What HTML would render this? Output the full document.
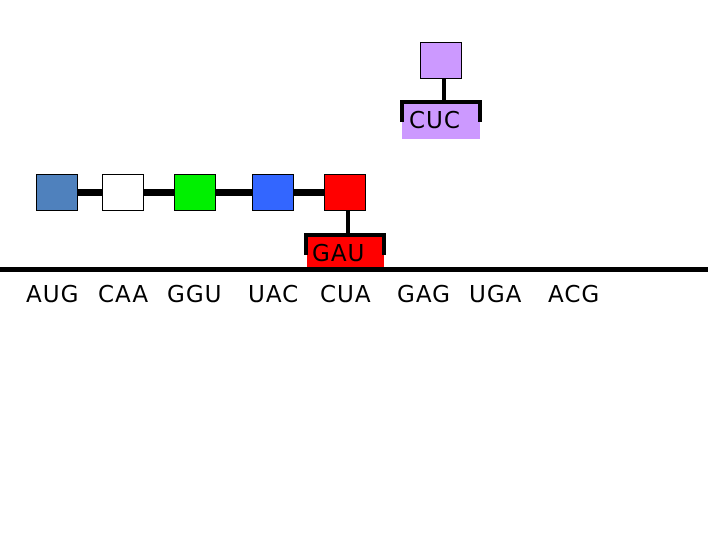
<!DOCTYPE html>
<html><head><style>
body{margin:0;width:720px;height:540px;background:#fff;position:relative;overflow:hidden;font-family:"Comic Sans MS","DejaVu Sans",sans-serif;}
div{position:absolute;box-sizing:border-box;}
.sq{width:42px;height:37px;border:1.5px solid #000;top:174px;}
.t{font-size:23px;color:#000;top:282px;letter-spacing:1px;}
</style></head><body>
<div style="left:78px;top:189px;width:248px;height:7px;background:#000"></div>
<div class="sq" style="left:36px;background:#4f81bd"></div>
<div class="sq" style="left:102px;background:#fff"></div>
<div class="sq" style="left:174px;background:#00f000"></div>
<div class="sq" style="left:252px;background:#3366ff"></div>
<div class="sq" style="left:324px;background:#ff0000"></div>
<div style="left:346px;top:210px;width:4px;height:24px;background:#000"></div>
<div style="left:307px;top:234px;width:77px;height:36px;background:#ff0000"></div>
<div style="left:304px;top:233px;width:82px;height:4px;background:#000"></div>
<div style="left:304px;top:233px;width:4px;height:22px;background:#000"></div>
<div style="left:382px;top:233px;width:4px;height:22px;background:#000"></div>
<div style="left:312px;top:241px;font-size:23px;letter-spacing:1px">GAU</div>
<div class="sq" style="left:420px;top:42px;background:#cc99ff"></div>
<div style="left:442px;top:78px;width:4px;height:23px;background:#000"></div>
<div style="left:402px;top:101px;width:78px;height:38px;background:#cc99ff"></div>
<div style="left:400px;top:100px;width:82px;height:4px;background:#000"></div>
<div style="left:400px;top:100px;width:4px;height:22px;background:#000"></div>
<div style="left:478px;top:100px;width:4px;height:22px;background:#000"></div>
<div style="left:409px;top:108px;font-size:23px;letter-spacing:1px">CUC</div>
<div style="left:0;top:267px;width:708px;height:5px;background:#000"></div>
<div class="t" style="left:26px">AUG</div>
<div class="t" style="left:98px">CAA</div>
<div class="t" style="left:167px">GGU</div>
<div class="t" style="left:248px">UAC</div>
<div class="t" style="left:320px">CUA</div>
<div class="t" style="left:397px">GAG</div>
<div class="t" style="left:469px">UGA</div>
<div class="t" style="left:548px">ACG</div>
</body></html>
